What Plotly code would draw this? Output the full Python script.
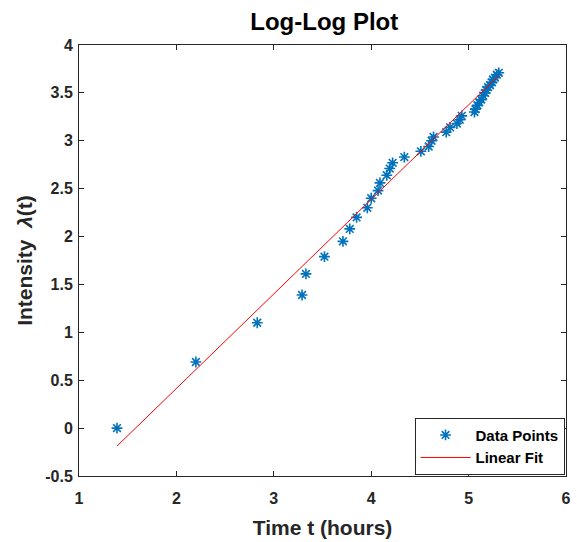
import plotly.graph_objects as go

# Data (log time vs log cumulative intensity)
log_t = [1.39, 2.20, 2.83, 3.29, 3.33, 3.52, 3.71, 3.78, 3.85, 3.96,
         4.00, 4.07, 4.09, 4.16, 4.19, 4.22, 4.34, 4.51, 4.59, 4.62,
         4.64, 4.77, 4.81, 4.88, 4.91, 4.93, 5.06, 5.07, 5.09, 5.11,
         5.13, 5.15, 5.17, 5.18, 5.20, 5.22, 5.24, 5.25, 5.27, 5.29, 5.31]
log_lambda = [0.00, 0.69, 1.10, 1.39, 1.61, 1.79, 1.95, 2.08, 2.20, 2.30,
              2.40, 2.48, 2.56, 2.64, 2.71, 2.77, 2.83, 2.89, 2.94, 3.00,
              3.04, 3.09, 3.14, 3.18, 3.22, 3.26, 3.30, 3.33, 3.37, 3.40,
              3.43, 3.47, 3.50, 3.53, 3.56, 3.58, 3.61, 3.64, 3.66, 3.69, 3.71]

fit_slope = 0.987
fit_intercept = -1.56

x_ticks = [1, 2, 3, 4, 5, 6]
y_ticks = [-0.5, 0, 0.5, 1, 1.5, 2, 2.5, 3, 3.5, 4]
y_tick_labels = ["-0.5", "0", "0.5", "1", "1.5", "2", "2.5", "3", "3.5", "4"]

fit_x = [min(log_t), max(log_t)]
fit_y = [fit_slope * v + fit_intercept for v in fit_x]

FONT = "Liberation Sans, Arial, sans-serif"
AXC = "#262626"

fig = go.Figure()
fig.add_trace(go.Scatter(
    x=log_t, y=log_lambda, mode="markers", name="<b>Data Points</b>",
    marker=dict(symbol="asterisk-open", size=9, color="#0072BD",
                line=dict(color="#0072BD", width=1.6)),
))
fig.add_trace(go.Scatter(
    x=fit_x, y=fit_y, mode="lines", name="<b>Linear Fit</b>",
    line=dict(color="#FF0000", width=1),
))

axis_common = dict(
    showgrid=False, zeroline=False, showline=True, linecolor=AXC, linewidth=1,
    mirror="ticks", ticks="inside", ticklen=5, tickcolor=AXC,
    tickfont=dict(family=FONT, size=16, color=AXC, weight="bold"),
)

fig.update_layout(
    width=577, height=542,
    margin=dict(l=79, r=6, t=45, b=63),
    paper_bgcolor="white", plot_bgcolor="white",
    font=dict(family=FONT, color=AXC),
    title=dict(text="<b>Log-Log Plot</b>", x=0.562, xanchor="center",
               y=0.96, yanchor="middle",
               font=dict(family=FONT, size=24, color="black")),
    xaxis=dict(range=[1, 6], tickvals=x_ticks, ticktext=[str(v) for v in x_ticks],
               ticklabelstandoff=8,
               title=dict(text="<b>Time t (hours)</b>", standoff=14,
                          font=dict(family=FONT, size=21, color=AXC)),
               **axis_common),
    yaxis=dict(range=[-0.5, 4], tickvals=y_ticks, ticktext=y_tick_labels,
               ticklabelstandoff=2,
               title=dict(text="<b>Intensity  <i>λ</i>(t)</b>", standoff=6,
                          font=dict(family=FONT, size=21, color=AXC)),
               **axis_common),
    legend=dict(x=0.997, y=0.003, xanchor="right", yanchor="bottom",
                bgcolor="white", bordercolor=AXC, borderwidth=1,
                font=dict(family=FONT, size=15, color="black"),
                itemwidth=50, tracegroupgap=0),
    showlegend=True,
)

fig.write_html("out.html")
